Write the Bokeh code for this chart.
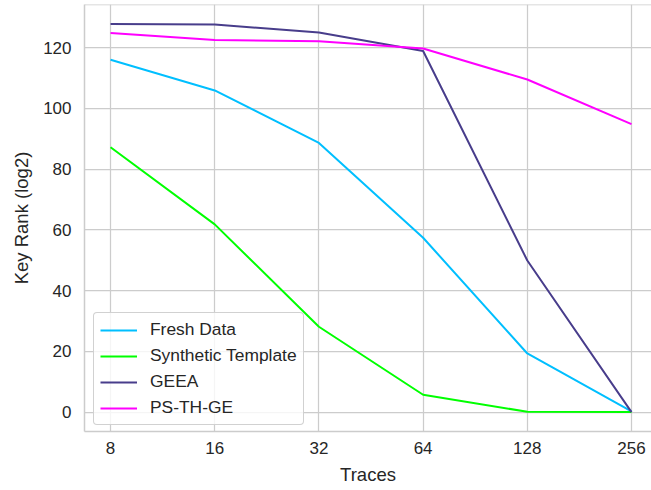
from bokeh.plotting import figure
from bokeh.models import Range1d, FixedTicker, Legend, LegendItem, Span
from bokeh.embed import file_html
from bokeh.resources import INLINE

# Number of attack traces (x categories) and key rank results (log2)
traces = ["8", "16", "32", "64", "128", "256"]
fresh_data = [116.0, 105.9, 88.6, 57.4, 19.3, 0.2]
synthetic_template = [87.2, 61.8, 28.1, 5.7, 0.1, 0.0]
geea = [127.8, 127.6, 125.0, 118.9, 49.9, 0.0]
ps_th_ge = [124.8, 122.5, 122.1, 119.7, 109.5, 94.8]
y_ticks = [0, 20, 40, 60, 80, 100, 120]

series = [
    ("Fresh Data", fresh_data, "#00BFFF"),
    ("Synthetic Template", synthetic_template, "#00FF00"),
    ("GEEA", geea, "#483D8B"),
    ("PS-TH-GE", ps_th_ge, "#FF00FF"),
]

FONT = "Liberation Sans"
TEXT = "#262626"
GRID = "#cccccc"

xs = list(range(len(traces)))
all_vals = fresh_data + synthetic_template + geea + ps_th_ge
lo, hi = min(all_vals), max(all_vals)
pad = 0.05 * (hi - lo)

p = figure(
    width=651, height=490,
    output_backend="svg", toolbar_location=None,
    x_range=Range1d(-0.25, 5.192),
    y_range=Range1d(lo - pad, hi + pad),
    min_border_left=84, min_border_right=0,
    min_border_top=4, min_border_bottom=59,
)
p.background_fill_color = "white"
p.border_fill_color = "white"
p.outline_line_color = None

# grid
for g in (p.xgrid, p.ygrid):
    g.grid_line_color = GRID
    g.grid_line_width = 1.25
p.xgrid.ticker = FixedTicker(ticks=xs)
p.ygrid.ticker = FixedTicker(ticks=y_ticks)

# axes
p.xaxis.ticker = FixedTicker(ticks=xs)
p.xaxis.major_label_overrides = {i: t for i, t in enumerate(traces)}
p.yaxis.ticker = FixedTicker(ticks=y_ticks)
p.xaxis.axis_label = "Traces"
p.yaxis.axis_label = "Key Rank (log2)"
for ax in (p.xaxis, p.yaxis):
    ax.axis_line_color = GRID
    ax.axis_line_width = 1.5
    ax.major_tick_line_color = None
    ax.minor_tick_line_color = None
    ax.major_tick_out = 0
    ax.major_tick_in = 0
    ax.major_label_text_font = FONT
    ax.major_label_text_font_size = "17px"
    ax.major_label_text_color = TEXT
    ax.axis_label_text_font = FONT
    ax.axis_label_text_font_size = "18.5px"
    ax.axis_label_text_font_style = "normal"
    ax.axis_label_text_color = TEXT
p.yaxis.major_label_standoff = 13
p.xaxis.major_label_standoff = 10
p.yaxis.axis_label_standoff = 8
p.xaxis.axis_label_standoff = 7

# top spine
p.add_layout(Span(location=hi + pad, dimension="width", line_color=GRID, line_width=1.5))

items = []
for name, vals, color in series:
    r = p.line(xs, vals, line_color=color, line_width=2)
    items.append(LegendItem(label=name, renderers=[r]))

legend = Legend(
    items=items, location=(9, 6),
    label_text_font=FONT, label_text_font_size="17.4px", label_text_color=TEXT,
    glyph_width=37, glyph_height=20, label_height=20, label_standoff=13,
    spacing=5, padding=6, margin=0,
    border_line_color=GRID, border_line_width=1, border_line_alpha=0.9,
    background_fill_color="white", background_fill_alpha=0.8,
    border_radius=4,
)
p.add_layout(legend)

open("out.html", "w").write(file_html(p, INLINE))
